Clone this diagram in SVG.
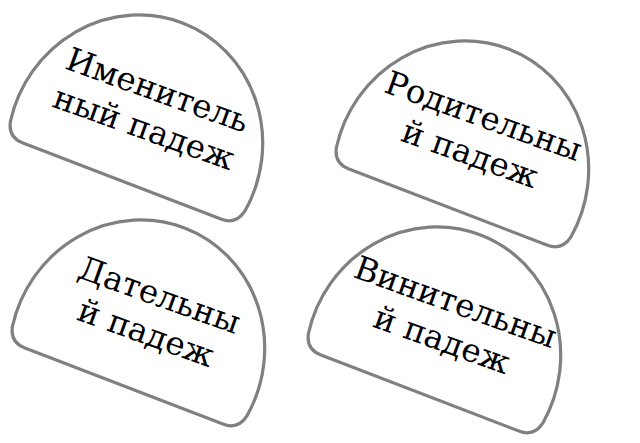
<svg xmlns="http://www.w3.org/2000/svg" width="640" height="443" viewBox="0 0 640 443">
<defs>
<style>
.shape{fill:#ffffff;stroke:#808080;stroke-width:3.2;stroke-linejoin:round}
.lbl{font-family:"DejaVu Serif","Liberation Serif",serif;font-size:32.5px;fill:#000000;text-anchor:middle}
</style>
<path id="chord" d="M -106,36.5 Q -122.1,36.5 -125.5,20.6 A 127 133 0 1 1 125.5,20.6 Q 122.1,36.5 106,36.5 Z"/>
</defs>
<rect width="640" height="443" fill="#ffffff"/>
<g id="connectors"></g>
<g id="node1" transform="translate(135,147) rotate(21)">
<use href="#chord" class="shape"/>
<g transform="rotate(-1.2)"><text class="lbl" x="2" y="-50">Именитель</text><text class="lbl" x="2" y="-10">ный падеж</text></g>
</g>
<g id="node2" transform="translate(461,173) rotate(21)">
<use href="#chord" class="shape"/>
<g transform="rotate(-1.2)"><text class="lbl" x="2" y="-50">Родительны</text><text class="lbl" x="2" y="-10">й падеж</text></g>
</g>
<g id="node3" transform="translate(137,352) rotate(21)">
<use href="#chord" class="shape"/>
<g transform="rotate(-1.2)"><text class="lbl" x="2" y="-50">Дательны</text><text class="lbl" x="2" y="-10">й падеж</text></g>
</g>
<g id="node4" transform="translate(433,359) rotate(21)">
<use href="#chord" class="shape"/>
<g transform="rotate(-1.2)"><text class="lbl" x="2" y="-50">Винительны</text><text class="lbl" x="2" y="-10">й падеж</text></g>
</g>
</svg>
